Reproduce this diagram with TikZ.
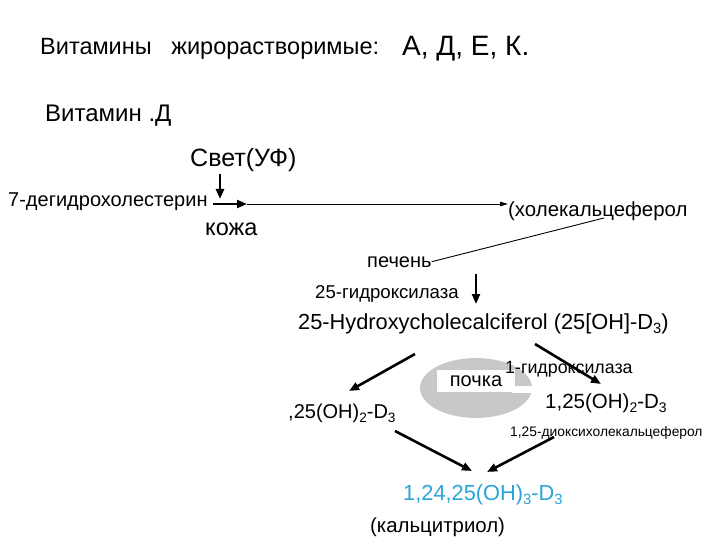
\documentclass[tikz,border=0pt]{standalone}
\usepackage{fontspec}
\setmainfont{Liberation Sans}
\usepackage{graphicx}
\usepackage{tikz}
\usetikzlibrary{arrows.meta, positioning}
\definecolor{kidneygray}{RGB}{200,200,200}
\definecolor{calcblue}{RGB}{40,165,215}
\newcommand{\lowsub}[1]{\raisebox{-0.22em}{\scalebox{0.68}{#1}}}

\begin{document}
\begin{tikzpicture}[x=1pt, y=-1pt,
        lbl/.style={anchor=base west, inner sep=0pt, font=\fontsize{#1}{#1}\selectfont},
        lbl/.default=17,
        bold arr/.style={-{Triangle[length=10pt, width=8pt]}, line width=2.6pt},
        thin arr/.style={-{Triangle[length=8pt, width=4.5pt]}, line width=0.9pt},
    ]
        \useasboundingbox (0,0) rectangle (720,540);

        % Header
        \node[lbl=23.5] (title) at (40,55) {Витамины\ \ \ жирорастворимые:};
        \node[lbl=28] (list) at (402,56) {А, Д, Е, К.};
        \node[lbl=24] (vitd) at (45,122) {Витамин .Д};

        % Skin step
        \node[lbl=25] (light) at (190,167) {Свет(УФ)};
        \node[lbl=20] (dhc) at (8,207) {7-дегидрохолестерин};
        \node[lbl=23.5] (skin) at (205,236) {кожа};
        \node[lbl=20.4] (chol) at (508,216) {(холекальцеферол};
        \coordinate (uvtop) at (220,174);
        \coordinate (uvend) at (220,199);
        \coordinate (skinstart) at (213,204);
        \coordinate (skinmid) at (247,204);
        \draw[bold arr] (uvtop) -- (uvend);
        \draw[bold arr, line width=2.2pt] (skinstart) -- (skinmid);
        \draw[thin arr] (skinmid) -- (chol.west |- skinmid);

        % Liver step
        \node[lbl=20] (liver) at (367,267) {печень};
        \coordinate (cholfoot) at (604,218);
        \draw[line width=0.9pt] (cholfoot) -- (liver.east);
        \node[lbl=18.6] (hyd25) at (315,298) {25-гидроксилаза};
        \coordinate (livtop) at (476,274);
        \coordinate (livend) at (476,304);
        \draw[bold arr, line width=2.2pt] (livtop) -- (livend);
        \node[lbl=21.8] (hcc) at (298,329) {25-Hydroxycholecalciferol (25[OH]-D\lowsub{3})};

        % Kidney
        \fill[kidneygray] (476,388) ellipse [x radius=56pt, y radius=30pt];
        \fill[white] (512,386) rectangle (534,393);
        \node[fill=white, minimum width=78pt, minimum height=22pt, inner sep=0pt,
            font=\fontsize{20}{20}\selectfont] (kidney) at (476,381) {почка};

        % Kidney products
        \node[lbl=20] (left25) at (288,418) {,25(OH)\lowsub{2}-D\lowsub{3}};
        \node[lbl=20.5] (right125) at (545,408) {1,25(OH)\lowsub{2}-D\lowsub{3}};
        \node[lbl=13.8] (dioxy) at (510,436) {1,25-диоксихолекальцеферол};
        \coordinate (ltop) at (415,354);
        \coordinate (lend) at (349,391);
        \coordinate (rtop) at (535,344);
        \coordinate (rend) at (601,384);
        \draw[bold arr] (ltop) -- (lend);
        \node[lbl=17.8] (hyd1) at (505,373) {1-гидроксилаза};
        \draw[bold arr] (rtop) -- (rend);

        % Calcitriol
        \coordinate (lltop) at (395,431);
        \coordinate (llend) at (472,471);
        \coordinate (rrtop) at (554,437);
        \coordinate (rrend) at (487,472);
        \draw[bold arr] (lltop) -- (llend);
        \draw[bold arr] (rrtop) -- (rrend);
        \node[lbl=21.8, text=calcblue] (calc) at (403,500) {1,24,25(OH)\lowsub{3}-D\lowsub{3}};
        \node[lbl=20.4] (calcname) at (370,532) {(кальцитриол)};
    \end{tikzpicture}
\end{document}
